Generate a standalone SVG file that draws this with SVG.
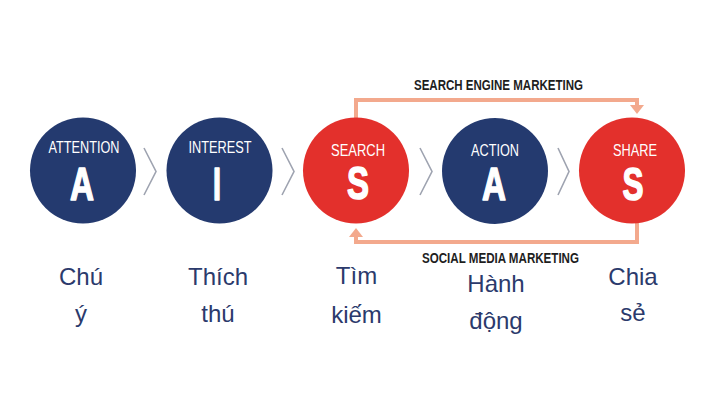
<svg xmlns="http://www.w3.org/2000/svg" width="705" height="414" viewBox="0 0 705 414">
<defs>
<style>
.navy{fill:#243a6f}
.red{fill:#e3302c}
.lbl{font-family:"Liberation Sans",Arial,sans-serif;font-size:17px;fill:#ffffff;text-anchor:middle}
.big{font-family:"Liberation Sans",Arial,sans-serif;font-size:46px;font-weight:bold;fill:#ffffff;stroke:#ffffff;stroke-width:1.6;stroke-linejoin:round;text-anchor:middle}
.vn{font-family:"Liberation Sans",Arial,sans-serif;font-size:24px;fill:#2b3a6c;text-anchor:middle}
.mk{font-family:"Liberation Sans",Arial,sans-serif;font-size:14.5px;font-weight:bold;fill:#1e1e1e;text-anchor:middle}
.chev{fill:none;stroke:#9ea3b0;stroke-width:1.6}
.flow{fill:none;stroke:#f3a98d;stroke-width:4}
.head{fill:#f3a98d}
</style>
</defs>
<rect width="705" height="414" fill="#ffffff"/>

<g id="connectors">
<path class="flow" d="M356,118 V100 H637 V107"/>
<polygon class="head" points="630,105 644,105 637,114"/>
<path class="flow" d="M637,223 V242 H356 V235"/>
<polygon class="head" points="349,237 363,237 356,228"/>
<polyline class="chev" points="144,148 156,171.5 144,195"/>
<polyline class="chev" points="282,148 294,171.5 282,195"/>
<polyline class="chev" points="420,148 432,171.5 420,195"/>
<polyline class="chev" points="558,148 569,171.5 558,195"/>
<text class="mk" x="498.5" y="90" textLength="169" lengthAdjust="spacingAndGlyphs">SEARCH ENGINE MARKETING</text>
<text class="mk" x="500.5" y="263" textLength="157" lengthAdjust="spacingAndGlyphs">SOCIAL MEDIA MARKETING</text>
</g>

<g id="node-attention">
<circle class="navy" cx="83" cy="170.5" r="53"/>
<text class="lbl" x="84" y="153" textLength="71" lengthAdjust="spacingAndGlyphs">ATTENTION</text>
<text class="big" x="82" y="200" textLength="24" lengthAdjust="spacingAndGlyphs">A</text>
<text class="vn" x="81" y="285">Chú</text>
<text class="vn" x="81" y="322">ý</text>
</g>

<g id="node-interest">
<circle class="navy" cx="219.5" cy="170.5" r="53"/>
<text class="lbl" x="220" y="153" textLength="63" lengthAdjust="spacingAndGlyphs">INTEREST</text>
<text class="big" x="217" y="200" textLength="8" lengthAdjust="spacingAndGlyphs">I</text>
<text class="vn" x="218" y="285">Thích</text>
<text class="vn" x="218" y="322">thú</text>
</g>

<g id="node-search">
<circle class="red" cx="356" cy="170.5" r="53"/>
<text class="lbl" x="358" y="156" textLength="54" lengthAdjust="spacingAndGlyphs">SEARCH</text>
<text class="big" x="358" y="199" textLength="22" lengthAdjust="spacingAndGlyphs">S</text>
<text class="vn" x="356.5" y="284">Tìm</text>
<text class="vn" x="356.5" y="323">kiếm</text>
</g>

<g id="node-action">
<circle class="navy" cx="495" cy="171" r="53"/>
<text class="lbl" x="495" y="156" textLength="48" lengthAdjust="spacingAndGlyphs">ACTION</text>
<text class="big" x="494" y="200" textLength="24" lengthAdjust="spacingAndGlyphs">A</text>
<text class="vn" x="496" y="292">Hành</text>
<text class="vn" x="496" y="329">động</text>
</g>

<g id="node-share">
<circle class="red" cx="632" cy="170.5" r="53"/>
<text class="lbl" x="635" y="156" textLength="44" lengthAdjust="spacingAndGlyphs">SHARE</text>
<text class="big" x="633" y="200" textLength="21" lengthAdjust="spacingAndGlyphs">S</text>
<text class="vn" x="633" y="285">Chia</text>
<text class="vn" x="633" y="321">sẻ</text>
</g>
</svg>
